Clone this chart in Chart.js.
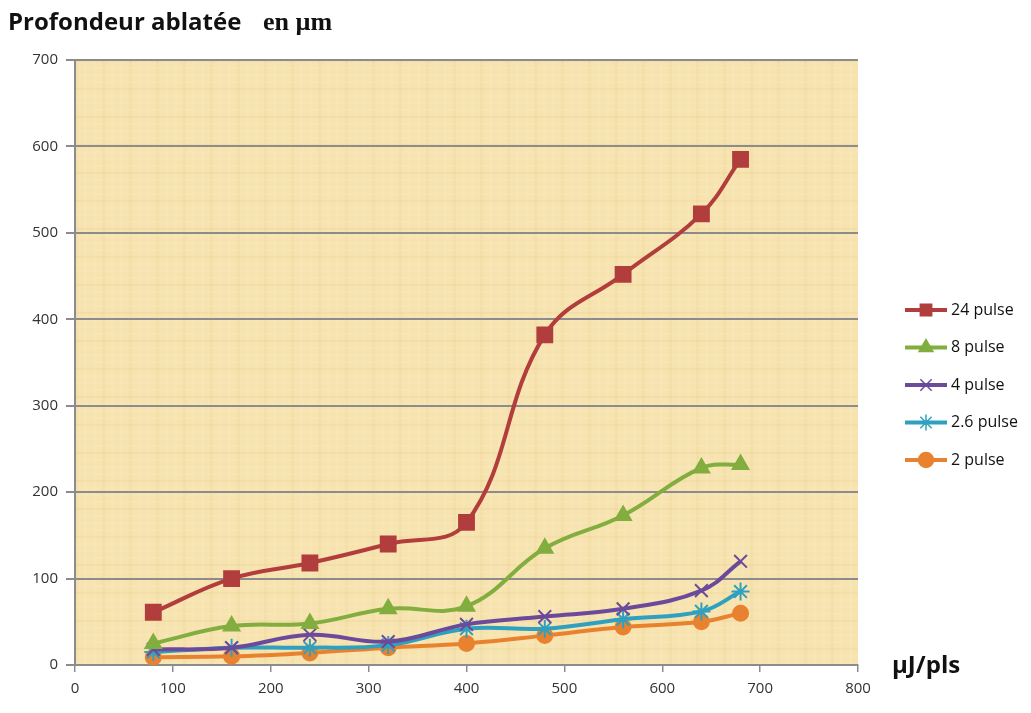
<!DOCTYPE html>
<html>
<head>
<meta charset="utf-8">
<script src="https://cdn.jsdelivr.net/npm/chart.js@4/dist/chart.umd.min.js"></script>
<style>
  html, body { margin: 0; padding: 0; background: #fff; }
  #wrap { width: 1031px; height: 713px; }
</style>
</head>
<body>
<div id="wrap"><canvas id="chart" width="1031" height="713"></canvas></div>
<script>
// energy per pulse (µJ/pls)
const energies = [80, 160, 240, 320, 400, 480, 560, 640, 680];

const pulse24 = [61, 100, 118, 140, 165, 382, 452, 522, 585];
const pulse8 = [25, 45, 48, 65, 68, 135, 173, 228, 232];
const pulse4 = [18, 20, 35, 27, 47, 56, 65, 86, 120];
const pulse26 = [15, 20, 20, 23, 42, 42, 53, 62, 85];
const pulse2 = [9, 10, 14, 20, 25, 34, 44, 50, 60];

const seriesNames = ['24 pulse', '8 pulse', '4 pulse', '2.6 pulse', '2 pulse'];
const yTicks = [0, 100, 200, 300, 400, 500, 600, 700];
const xTicks = [0, 100, 200, 300, 400, 500, 600, 700, 800];

const colours = ['#b13d3d', '#82ad3f', '#6b4a9b', '#2fa1bf', '#e9822f'];
const markers = [
    { style: 'rect', radius: 10.5 },
    { style: 'triangle', radius: 9 },
    { style: 'crossRot', radius: 9 },
    { style: 'star', radius: 9 },
    { style: 'circle', radius: 7.5 },
];
const values = [pulse24, pulse8, pulse4, pulse26, pulse2];

const datasets = values.map((vals, i) => ({
    label: seriesNames[i],
    data: energies.map((x, j) => ({ x: x, y: vals[j] })),
    borderColor: colours[i],
    backgroundColor: colours[i],
    borderWidth: 4,
    tension: 0.4,
    pointStyle: markers[i].style,
    pointRadius: markers[i].radius,
    pointHoverRadius: markers[i].radius,
    pointBorderColor: colours[i],
    pointBackgroundColor: colours[i],
    pointBorderWidth: 2,
}));

// papyrus-like fill behind the plot
const plotBackground = {
    id: 'plotBackground',
    beforeDraw(chart) {
        const { ctx, chartArea: a } = chart;
        ctx.save();
        ctx.fillStyle = '#f7e3b0';
        ctx.fillRect(a.left, a.top, a.right - a.left, a.bottom - a.top);
        // faint woven stripes
        ctx.globalAlpha = 0.14;
        for (let x = a.left; x < a.right; x += 9) {
            ctx.fillStyle = (Math.floor((x - a.left) / 9) % 3 === 0) ? '#e2c77e' : '#fdf1d0';
            ctx.fillRect(x, a.top, 3, a.bottom - a.top);
        }
        for (let y = a.top; y < a.bottom; y += 7) {
            ctx.fillStyle = (Math.floor((y - a.top) / 7) % 4 === 0) ? '#dcbf74' : '#fdf1d0';
            ctx.fillRect(a.left, y, a.right - a.left, 2);
        }
        ctx.restore();
    }
};

// titles and legend with line + marker
const decorations = {
    id: 'decorations',
    afterDraw(chart) {
        const { ctx } = chart;
        ctx.save();
        ctx.fillStyle = '#111';
        ctx.textBaseline = 'alphabetic';
        ctx.font = 'bold 24px "Open Sans", "Liberation Sans", sans-serif';
        ctx.fillText('Profondeur ablatée', 8, 30);
        ctx.font = 'bold 26px "Liberation Serif", "DejaVu Serif", serif';
        ctx.fillText('en µm', 263, 30);
        ctx.font = 'bold 24px "Open Sans", "Liberation Sans", sans-serif';
        ctx.fillText('µJ/pls', 892, 673);

        const startY = 310;
        const gap = 37.5;
        chart.data.datasets.forEach((ds, i) => {
            const y = startY + i * gap;
            ctx.strokeStyle = ds.borderColor;
            ctx.lineWidth = 4;
            ctx.beginPath();
            ctx.moveTo(905, y);
            ctx.lineTo(947, y);
            ctx.stroke();
            ctx.fillStyle = ds.borderColor;
            ctx.strokeStyle = ds.borderColor;
            ctx.lineWidth = 1.5;
            Chart.helpers.drawPoint(ctx, {
                pointStyle: ds.pointStyle,
                radius: Math.min(ds.pointRadius, 8),
                rotation: 0,
                borderWidth: 1.5
            }, 926, y);
            ctx.fillStyle = '#111';
            ctx.font = '16px "Open Sans", "Liberation Sans", sans-serif';
            ctx.textBaseline = 'middle';
            ctx.fillText(ds.label, 951, y);
        });
        ctx.restore();
    }
};

new Chart(document.getElementById('chart'), {
    type: 'line',
    data: { datasets: datasets },
    options: {
        responsive: false,
        animation: false,
        layout: { padding: { top: 60, right: 173, left: 0, bottom: 0 } },
        plugins: {
            legend: { display: false },
            tooltip: { enabled: false },
            title: { display: false }
        },
        scales: {
            x: {
                type: 'linear',
                min: 0,
                max: 800,
                afterBuildTicks: axis => { axis.ticks = xTicks.map(v => ({ value: v })); },
                afterFit: axis => { axis.height = 48; },
                grid: {
                    display: true,
                    drawOnChartArea: false,
                    drawTicks: true,
                    tickLength: 7,
                    color: '#8c8c8c',
                    lineWidth: 1.5
                },
                border: { display: true, color: '#8c8c8c', width: 2 },
                ticks: {
                    color: '#333',
                    font: { size: 15, family: '"Open Sans", "Liberation Sans", sans-serif' },
                    padding: 8,
                    maxRotation: 0
                }
            },
            y: {
                type: 'linear',
                min: 0,
                max: 700,
                afterBuildTicks: axis => { axis.ticks = yTicks.map(v => ({ value: v })); },
                afterFit: axis => { axis.width = 75; },
                grid: {
                    color: '#8c8c8c',
                    lineWidth: 2,
                    tickLength: 9,
                    drawTicks: true
                },
                border: { display: true, color: '#8c8c8c', width: 2 },
                ticks: {
                    color: '#333',
                    font: { size: 15, family: '"Open Sans", "Liberation Sans", sans-serif' },
                    padding: 8
                }
            }
        }
    },
    plugins: [plotBackground, decorations]
});
</script>
</body>
</html>
